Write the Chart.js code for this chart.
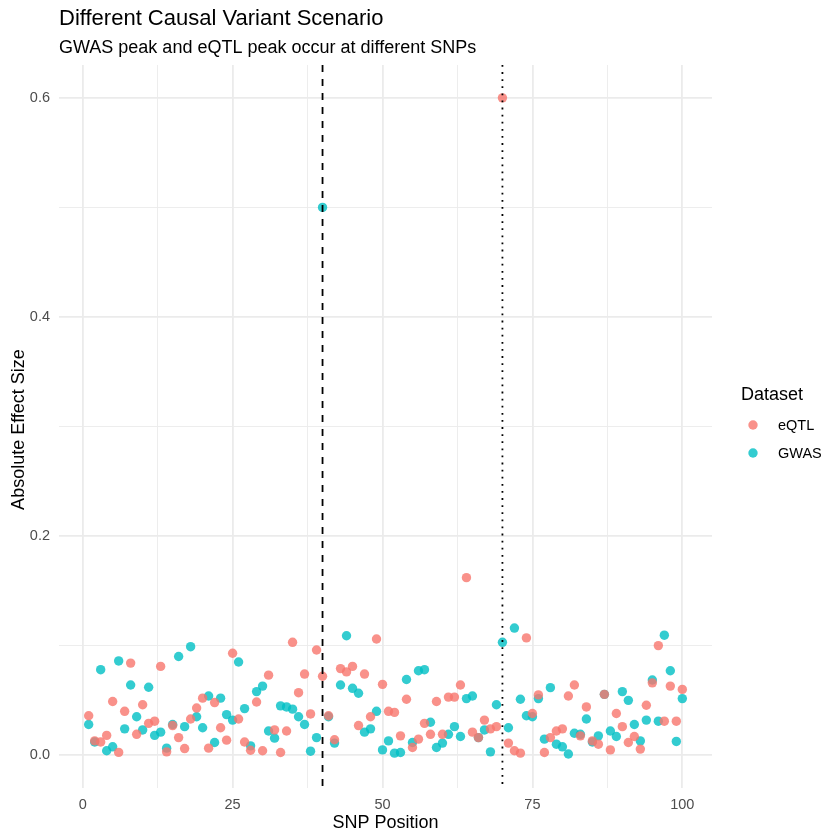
<!DOCTYPE html>
<html>
<head>
<meta charset="utf-8">
<script src="https://cdn.jsdelivr.net/npm/chart.js@4.4.1/dist/chart.umd.min.js"></script>
<style>
  html, body { margin: 0; padding: 0; background: #ffffff; }
  #wrap { width: 840px; height: 840px; }
</style>
</head>
<body>
<div id="wrap"><canvas id="c" width="840" height="840"></canvas></div>
<script>
// ---------------- DATA ----------------
const snpPositions = [1,2,3,4,5,6,7,8,9,10,11,12,13,14,15,16,17,18,19,20,
  21,22,23,24,25,26,27,28,29,30,31,32,33,34,35,36,37,38,39,40,
  41,42,43,44,45,46,47,48,49,50,51,52,53,54,55,56,57,58,59,60,
  61,62,63,64,65,66,67,68,69,70,71,72,73,74,75,76,77,78,79,80,
  81,82,83,84,85,86,87,88,89,90,91,92,93,94,95,96,97,98,99,100];

const eqtlEffect = [0.036,0.013,0.012,0.018,0.049,0.0025,0.040,0.084,0.019,0.046,
  0.029,0.031,0.081,0.003,0.027,0.016,0.006,0.033,0.043,0.052,
  0.0064,0.048,0.025,0.0137,0.093,0.033,0.012,0.0045,0.0485,0.004,
  0.073,0.023,0.0024,0.022,0.103,0.057,0.074,0.0376,0.096,0.072,
  0.036,0.014,0.079,0.076,0.081,0.027,0.074,0.035,0.106,0.0646,
  0.040,0.039,0.0176,0.051,0.007,0.0146,0.029,0.019,0.049,0.019,
  0.053,0.053,0.064,0.162,0.021,0.016,0.032,0.024,0.026,0.600,
  0.011,0.004,0.0018,0.107,0.038,0.055,0.0024,0.016,0.022,0.024,
  0.054,0.064,0.0176,0.044,0.013,0.010,0.0555,0.0048,0.038,0.026,
  0.0115,0.017,0.0055,0.0455,0.066,0.100,0.031,0.063,0.031,0.060];

const gwasEffect = [0.028,0.012,0.078,0.004,0.0076,0.086,0.024,0.064,0.035,0.023,
  0.062,0.018,0.021,0.0064,0.028,0.090,0.026,0.099,0.035,0.025,
  0.054,0.0115,0.052,0.037,0.032,0.085,0.0425,0.0085,0.058,0.063,
  0.022,0.0155,0.045,0.044,0.042,0.035,0.028,0.0036,0.016,0.500,
  0.035,0.011,0.064,0.109,0.061,0.0565,0.021,0.024,0.040,0.0048,
  0.013,0.0018,0.0024,0.069,0.0115,0.077,0.078,0.030,0.007,0.011,
  0.019,0.026,0.017,0.0516,0.054,0.016,0.023,0.003,0.046,0.103,
  0.025,0.116,0.051,0.036,0.035,0.0516,0.0146,0.0616,0.010,0.0076,
  0.001,0.020,0.019,0.033,0.012,0.0176,0.0555,0.022,0.017,0.058,
  0.050,0.028,0.013,0.032,0.0686,0.031,0.1095,0.077,0.0125,0.0516];

const seriesNames = ['eQTL', 'GWAS'];
const gwasPeakSNP = [40];   // dashed line
const eqtlPeakSNP = [70];   // dotted line

const xGridValues = [0, 12.5, 25, 37.5, 50, 62.5, 75, 87.5, 100];
const xTickValues = [0, 25, 50, 75, 100];
const xTickLabels = ['0', '25', '50', '75', '100'];
const yGridValues = [0, 0.1, 0.2, 0.3, 0.4, 0.5, 0.6];
const yTickValues = [0, 0.2, 0.4, 0.6];
const yTickLabels = ['0.0', '0.2', '0.4', '0.6'];

const titleText = 'Different Causal Variant Scenario';
const subtitleText = 'GWAS peak and eQTL peak occur at different SNPs';
const xTitle = 'SNP Position';
const yTitle = 'Absolute Effect Size';
const legendTitle = 'Dataset';

// ---------------- STYLE ----------------
const FONT = '"Liberation Sans", Arial, Helvetica, sans-serif';
const colEQTL = 'rgba(248,118,109,0.8)';
const colGWAS = 'rgba(0,191,196,0.8)';
const PR = 4.7;

function near(a, b) { return Math.abs(a - b) < 1e-9; }
function labelFor(values, labels, v) {
  for (let i = 0; i < values.length; i++) if (near(values[i], v)) return labels[i];
  return '';
}
function isMajor(values, v) { return values.some(t => near(t, v)); }

const decor = {
  id: 'decor',
  beforeDraw(chart) {
    const ctx = chart.ctx;
    ctx.save();
    ctx.fillStyle = '#ffffff';
    ctx.fillRect(0, 0, chart.width, chart.height);
    ctx.restore();
  },
  afterDatasetsDraw(chart) {
    const ctx = chart.ctx;
    const xs = chart.scales.x;
    const area = chart.chartArea;
    ctx.save();
    ctx.strokeStyle = '#000000';
    ctx.lineWidth = 1.8;
    ctx.lineCap = 'butt';
    gwasPeakSNP.forEach(v => {
      const px = xs.getPixelForValue(v);
      ctx.setLineDash([7, 7]);
      ctx.beginPath(); ctx.moveTo(px, area.top); ctx.lineTo(px, area.bottom); ctx.stroke();
    });
    eqtlPeakSNP.forEach(v => {
      const px = xs.getPixelForValue(v);
      ctx.setLineDash([1.8, 5.3]);
      ctx.beginPath(); ctx.moveTo(px, area.top); ctx.lineTo(px, area.bottom); ctx.stroke();
    });
    ctx.restore();
  },
  afterDraw(chart) {
    const ctx = chart.ctx;
    const area = chart.chartArea;
    ctx.save();
    ctx.fillStyle = '#000000';
    ctx.textAlign = 'left';
    ctx.textBaseline = 'alphabetic';
    // titles
    ctx.font = '22px ' + FONT;
    ctx.fillText(titleText, area.left, 25);
    ctx.font = '18px ' + FONT;
    ctx.fillText(subtitleText, area.left, 53);
    // x axis title
    ctx.font = '18px ' + FONT;
    ctx.textAlign = 'center';
    ctx.fillText(xTitle, (area.left + area.right) / 2, 828);
    // y axis title
    ctx.save();
    ctx.translate(24, (area.top + area.bottom) / 2 + 3);
    ctx.rotate(-Math.PI / 2);
    ctx.textAlign = 'center';
    ctx.fillText(yTitle, 0, 0);
    ctx.restore();
    // legend
    ctx.textAlign = 'left';
    ctx.font = '18px ' + FONT;
    ctx.fillText(legendTitle, 741, 400);
    const ds = chart.data.datasets;
    const rowY = [425, 453];
    ds.forEach((d, i) => {
      ctx.fillStyle = d.backgroundColor;
      ctx.beginPath();
      ctx.arc(753, rowY[i], PR, 0, Math.PI * 2);
      ctx.fill();
      ctx.fillStyle = '#000000';
      ctx.font = '14.5px ' + FONT;
      ctx.textBaseline = 'middle';
      ctx.fillText(d.label, 778, rowY[i] + 1);
      ctx.textBaseline = 'alphabetic';
    });
    ctx.restore();
  }
};

const chart = new Chart(document.getElementById('c'), {
  type: 'scatter',
  data: {
    datasets: [
      {
        label: seriesNames[0],
        data: snpPositions.map((p, i) => ({ x: p, y: eqtlEffect[i] })),
        backgroundColor: colEQTL,
        borderWidth: 0,
        pointRadius: PR,
        pointHoverRadius: PR
      },
      {
        label: seriesNames[1],
        data: snpPositions.map((p, i) => ({ x: p, y: gwasEffect[i] })),
        backgroundColor: colGWAS,
        borderWidth: 0,
        pointRadius: PR,
        pointHoverRadius: PR
      }
    ]
  },
  options: {
    responsive: false,
    animation: false,
    devicePixelRatio: 1,
    layout: { padding: { top: 65, right: 128, left: 0, bottom: 0 } },
    plugins: {
      legend: { display: false },
      title: { display: false },
      tooltip: { enabled: false }
    },
    scales: {
      x: {
        type: 'linear',
        min: -3.95,
        max: 104.95,
        afterBuildTicks(scale) { scale.ticks = xGridValues.map(v => ({ value: v })); },
        afterFit(scale) { scale.height = 52; },
        border: { display: false },
        grid: {
          drawTicks: false,
          color: '#EBEBEB',
          lineWidth: (c) => isMajor(xTickValues, c.tick.value) ? 1.8 : 0.9
        },
        ticks: {
          autoSkip: false,
          maxRotation: 0,
          padding: 8,
          color: '#4D4D4D',
          font: { family: FONT, size: 14.5 },
          callback: (v) => labelFor(xTickValues, xTickLabels, v)
        }
      },
      y: {
        type: 'linear',
        min: -0.03,
        max: 0.63,
        afterBuildTicks(scale) { scale.ticks = yGridValues.map(v => ({ value: v })); },
        afterFit(scale) { scale.width = 59; },
        border: { display: false },
        grid: {
          drawTicks: false,
          color: '#EBEBEB',
          lineWidth: (c) => isMajor(yTickValues, c.tick.value) ? 1.8 : 0.9
        },
        ticks: {
          autoSkip: false,
          padding: 9,
          color: '#4D4D4D',
          font: { family: FONT, size: 14.5 },
          callback: (v) => labelFor(yTickValues, yTickLabels, v)
        }
      }
    }
  },
  plugins: [decor]
});
</script>
</body>
</html>
